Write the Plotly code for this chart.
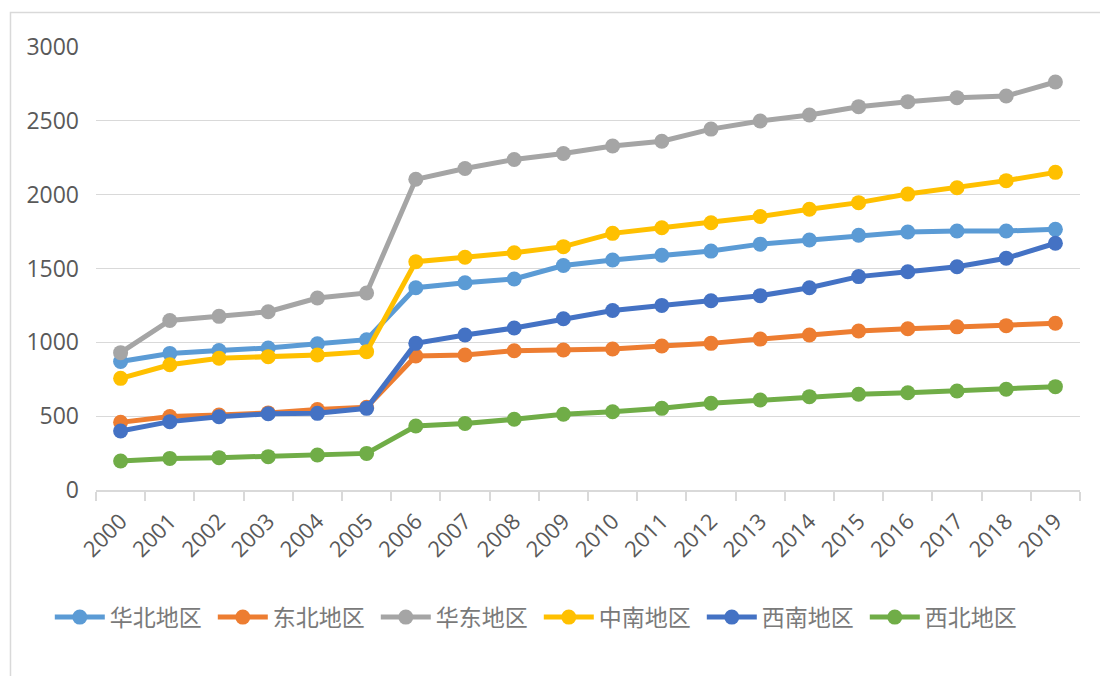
import plotly.graph_objects as go

years = [str(y) for y in range(2000, 2020)]

huabei = [870, 925, 945, 962, 990, 1018, 1370, 1404, 1429, 1520, 1558, 1590, 1618, 1665, 1693, 1725, 1747, 1754, 1754, 1765]
dongbei = [458, 498, 508, 522, 545, 560, 907, 914, 943, 948, 955, 975, 993, 1022, 1050, 1077, 1092, 1105, 1113, 1129]
huadong = [930, 1148, 1176, 1207, 1300, 1334, 2104, 2177, 2238, 2279, 2330, 2362, 2444, 2499, 2540, 2596, 2630, 2657, 2668, 2763]
zhongnan = [756, 848, 892, 903, 914, 937, 1546, 1576, 1607, 1648, 1738, 1776, 1810, 1852, 1901, 1946, 2004, 2047, 2095, 2151]
xinan = [400, 463, 496, 516, 519, 553, 993, 1050, 1097, 1160, 1216, 1250, 1282, 1316, 1370, 1445, 1478, 1512, 1569, 1671]
xibei = [196, 214, 219, 226, 237, 248, 433, 451, 479, 513, 530, 553, 587, 609, 632, 648, 659, 670, 682, 700]

series = [
    ("华北地区", huabei, "#5B9BD5"),
    ("东北地区", dongbei, "#ED7D31"),
    ("华东地区", huadong, "#A5A5A5"),
    ("中南地区", zhongnan, "#FFC000"),
    ("西南地区", xinan, "#4472C4"),
    ("西北地区", xibei, "#70AD47"),
]

fig = go.Figure()
for name, vals, color in series:
    fig.add_trace(go.Scatter(
        x=years, y=vals, name=name, mode="lines+markers",
        line=dict(color=color, width=5),
        marker=dict(color=color, size=15),
    ))

text_font = "Open Sans, Noto Sans CJK SC, sans-serif"

fig.update_layout(
    width=1100, height=676,
    margin=dict(l=96, r=20, t=47, b=186),
    paper_bgcolor="white", plot_bgcolor="white",
    showlegend=True,
    legend=dict(
        orientation="h", x=0.45, xanchor="center", y=-0.287, yanchor="middle",
        font=dict(family="Noto Sans CJK SC, sans-serif", size=23, color="#7a7a7a"),
        itemwidth=50, entrywidth=98, traceorder="normal",
    ),
    xaxis=dict(
        type="category", tickangle=-45,
        tickfont=dict(family=text_font, size=22, color="#595959"),
        showgrid=False, showline=True, linecolor="#d9d9d9", linewidth=1.5,
        ticks="outside", tickson="boundaries", ticklen=9, tickcolor="#d9d9d9", tickwidth=1.5,
        range=[-0.5, 19.5], ticklabelstandoff=8,
    ),
    yaxis=dict(
        range=[0, 3000], dtick=500,
        tickfont=dict(family=text_font, size=23, color="#595959"),
        showgrid=True, gridcolor="#d9d9d9", gridwidth=1.3,
        zeroline=False, showline=False, ticks="",
        ticklabelstandoff=16,
    ),
    shapes=[dict(
        type="rect", xref="paper", yref="paper",
        x0=-0.0869, x1=1.3, y0=-0.6, y1=1.078,
        line=dict(color="#d9d9d9", width=1.5), fillcolor="rgba(0,0,0,0)", layer="below",
    )],
)

fig.write_html("out.html")
